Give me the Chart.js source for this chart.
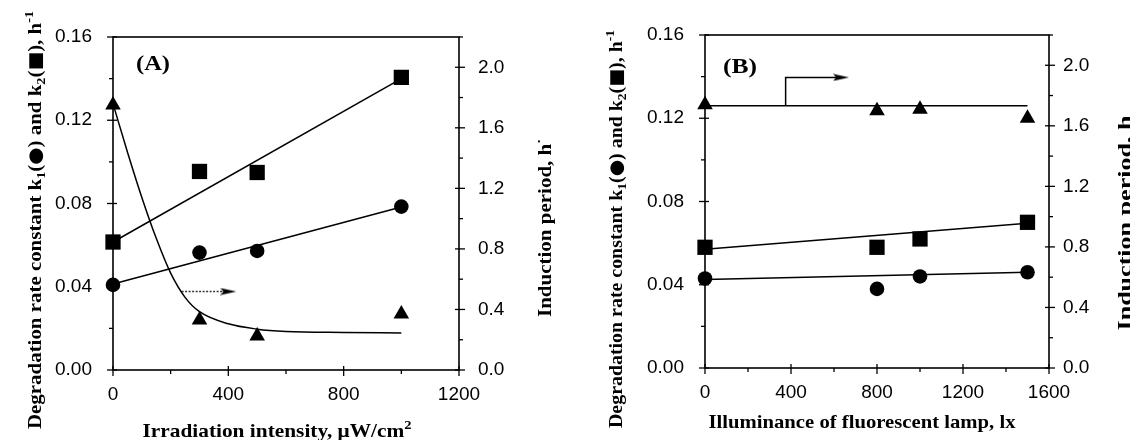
<!DOCTYPE html>
<html>
<head>
<meta charset="utf-8">
<script src="https://cdn.jsdelivr.net/npm/chart.js@4.4.0/dist/chart.umd.min.js"></script>
<style>
  body { margin: 0; background: #fff; }
  #wrap { position: relative; width: 1130px; height: 440px; }
  canvas { position: absolute; top: 0; }
  #chartA { left: 0; }
  #chartB { left: 565px; }
</style>
</head>
<body>
<div id="wrap">
  <canvas id="chartA" width="565" height="440"></canvas>
  <canvas id="chartB" width="565" height="440"></canvas>
</div>
<script>
// panel A - irradiation intensity, uW/cm2
const intensityA = [0, 300, 500, 1000];
const k1A = [0.0409, 0.0564, 0.0572, 0.0785];
const k2A = [0.0615, 0.0954, 0.0949, 0.1406];
const inductionA = [1.75, 0.33, 0.225, 0.37];
const fitXA = [0, 1000];
const k1FitA = [0.0413, 0.0783];
const k2FitA = [0.0615, 0.140];
const curveXA = [0, 50, 100, 150, 200, 250, 300, 400, 500, 600, 800, 1000];
const curveYA = [1.76, 1.44, 1.14, 0.87, 0.64, 0.48, 0.385, 0.305, 0.27, 0.255, 0.248, 0.245];
const arrowXA = [238, 400];
const arrowYA = [0.0377, 0.0377];

// panel B - illuminance of fluorescent lamp, lx
const illuminanceB = [0, 800, 1000, 1500];
const k1B = [0.043, 0.038, 0.044, 0.046];
const k2B = [0.058, 0.058, 0.062, 0.070];
const inductionB = [1.74, 1.70, 1.71, 1.65];
const fitXB = [0, 1500];
const k1FitB = [0.0425, 0.046];
const k2FitB = [0.057, 0.0695];
const inductionFitB = [1.733, 1.733];
const arrowXB = [375, 375, 633];
const arrowYB = [1.733, 1.92, 1.92];

// tick labels
const xTicksA = ['0', '400', '800', '1200'];
const xTicksB = ['0', '400', '800', '1200', '1600'];
const yTicksLeft = ['0.00', '0.04', '0.08', '0.12', '0.16'];
const yTicksRight = ['0.0', '0.4', '0.8', '1.2', '1.6', '2.0'];

Chart.defaults.font.family = "'Liberation Sans', Arial, sans-serif";
Chart.defaults.color = '#000';

const pts = (xs, ys) => xs.map((x, i) => ({ x: x, y: ys[i] }));

// small arrow head used as point style
const arrowHead = document.createElement('canvas');
arrowHead.width = 16;
arrowHead.height = 8;
const ah = arrowHead.getContext('2d');
ah.fillStyle = '#000';
ah.beginPath();
ah.moveTo(0, 0.5);
ah.lineTo(16, 4);
ah.lineTo(0, 7.5);
ah.lineTo(3, 4);
ah.closePath();
ah.fill();

// frame + minor/major tick marks
const tickMarks = {
  id: 'tickMarks',
  afterDraw(chart) {
    const ctx = chart.ctx;
    const a = chart.chartArea;
    ctx.save();
    ctx.strokeStyle = '#000';
    ctx.lineWidth = 1.6;
    ctx.strokeRect(a.left, a.top, a.right - a.left, a.bottom - a.top);
    ctx.lineWidth = 1.3;
    ['x', 'y', 'y2'].forEach(id => {
      const sc = chart.scales[id];
      sc.ticks.forEach((t, i) => {
        const major = t.label !== '';
        const p = sc.getPixelForTick(i);
        const out = major ? 6 : 4;
        const inn = major ? 4 : 0;
        ctx.beginPath();
        if (id === 'x') { ctx.moveTo(p, a.bottom - inn); ctx.lineTo(p, a.bottom + out); }
        else if (id === 'y') { ctx.moveTo(a.left - out, p); ctx.lineTo(a.left + inn, p); }
        else { ctx.moveTo(a.right + out, p); ctx.lineTo(a.right - inn, p); }
        ctx.stroke();
      });
    });
    ctx.restore();
  }
};

const serif = '"Liberation Serif", "Times New Roman", serif';

// axis titles with sub/superscripts, fitted to the length they have in the figure
const sideText = {
  id: 'sideText',
  afterDraw(chart, args, opts) {
    const ctx = chart.ctx;
    (opts.items || []).forEach(it => {
      const size = it.size;
      const parts = it.parts.map(p => {
        let s = size, dy = 0, fam = serif, w = it.weight || 'bold';
        if (p.sub) { s = size * 0.68; dy = size * 0.22; }
        if (p.sup) { s = size * 0.68; dy = -size * 0.42; }
        if (p.sym) { fam = '"DejaVu Sans", sans-serif'; s = size * 0.95; w = 'normal'; }
        return { t: p.t, font: w + ' ' + s + 'px ' + fam, dy: dy };
      });
      let total = 0;
      parts.forEach(p => { ctx.font = p.font; p.w = ctx.measureText(p.t).width; total += p.w; });
      const sx = it.len ? it.len / total : 1;
      ctx.save();
      ctx.translate(it.x, it.y);
      ctx.rotate(it.rot * Math.PI / 180);
      ctx.scale(sx, 1);
      ctx.fillStyle = '#000';
      ctx.textAlign = 'left';
      ctx.textBaseline = 'alphabetic';
      let cx = -total / 2;
      parts.forEach(p => {
        ctx.font = p.font;
        ctx.fillText(p.t, cx, size * 0.32 + p.dy);
        cx += p.w;
      });
      ctx.restore();
    });
  }
};

const rateTitle = [
  { t: 'Degradation rate constant k' }, { t: '1', sub: true }, { t: '(' }, { t: '●', sym: true },
  { t: ') and k' }, { t: '2', sub: true }, { t: '(' }, { t: '■', sym: true }, { t: '), h' }, { t: '-1', sup: true }
];

const tickFont = { size: 19 };

function makeScales(cfg) {
  return {
    x: {
      type: 'linear', position: 'bottom', min: 0, max: cfg.xMax,
      afterFit: s => { s.height = cfg.bottom; },
      border: { display: false },
      grid: { display: false, drawTicks: false },
      ticks: {
        stepSize: 200, padding: 13, autoSkip: false, maxRotation: 0, font: tickFont,
        callback: v => cfg.xTicks.includes(String(v)) ? String(v) : ''
      }
    },
    y: {
      type: 'linear', position: 'left', min: 0, max: 0.16,
      afterFit: s => { s.width = cfg.left; },
      border: { display: false },
      grid: { display: false, drawTicks: false },
      ticks: {
        stepSize: 0.02, padding: cfg.leftPad, autoSkip: false, font: tickFont,
        callback: v => yTicksLeft.includes(v.toFixed(2)) ? v.toFixed(2) : ''
      }
    },
    y2: {
      type: 'linear', position: 'right', min: 0, max: 2.2,
      afterFit: s => { s.width = cfg.right; },
      border: { display: false },
      grid: { display: false, drawTicks: false },
      ticks: {
        stepSize: 0.2, padding: cfg.rightPad, autoSkip: false, font: tickFont,
        callback: v => yTicksRight.includes(v.toFixed(1)) ? v.toFixed(1) : ''
      }
    }
  };
}

const lineDs = (data, axis, extra) => Object.assign({
  data: data, yAxisID: axis, showLine: true, borderColor: '#000', borderWidth: 1.5,
  pointRadius: 0, clip: false
}, extra || {});

const markDs = (data, axis, style, r) => ({
  data: data, yAxisID: axis, showLine: false, pointStyle: style, pointRadius: r,
  backgroundColor: '#000', borderColor: '#000', borderWidth: 0, clip: false
});

new Chart(document.getElementById('chartA'), {
  type: 'scatter',
  data: {
    datasets: [
      lineDs(pts(fitXA, k2FitA), 'y'),
      lineDs(pts(fitXA, k1FitA), 'y'),
      lineDs(pts(curveXA, curveYA), 'y2', { cubicInterpolationMode: 'monotone' }),
      lineDs(pts(arrowXA, arrowYA), 'y', {
        borderDash: [2, 1.5], borderColor: '#333', pointStyle: arrowHead, pointRadius: [0, 8]
      }),
      markDs(pts(intensityA, k2A), 'y', 'rect', 10.8),
      markDs(pts(intensityA, k1A), 'y', 'circle', 7.3),
      markDs(pts(intensityA, inductionA), 'y2', 'triangle', 9)
    ]
  },
  options: {
    responsive: false,
    animation: false,
    events: [],
    layout: { padding: { top: 37, left: 0, right: 0, bottom: 0 } },
    scales: makeScales({
      xMax: 1200, xTicks: xTicksA, bottom: 70, left: 113, right: 106, leftPad: 21, rightPad: 19
    }),
    plugins: {
      legend: { display: false },
      tooltip: { enabled: false },
      sideText: {
        items: [
          { parts: rateTitle, x: 35, y: 220, rot: -90, size: 19, len: 418 },
          { parts: [{ t: 'Induction period, h' }, { t: '·', sup: true }], x: 545, y: 228, rot: -90, size: 19, len: 178 },
          { parts: [{ t: 'Irradiation intensity, μW/cm' }, { t: '2', sup: true }], x: 277, y: 431, rot: 0, size: 19, len: 269 },
          { parts: [{ t: '(A)' }], x: 153, y: 63, rot: 0, size: 22, len: 34 }
        ]
      }
    }
  },
  plugins: [tickMarks, sideText]
});

new Chart(document.getElementById('chartB'), {
  type: 'scatter',
  data: {
    datasets: [
      lineDs(pts(fitXB, k2FitB), 'y'),
      lineDs(pts(fitXB, k1FitB), 'y'),
      lineDs(pts(fitXB, inductionFitB), 'y2'),
      lineDs(pts(arrowXB, arrowYB), 'y2', { pointStyle: arrowHead, pointRadius: [0, 0, 8] }),
      markDs(pts(illuminanceB, k2B), 'y', 'rect', 10.8),
      markDs(pts(illuminanceB, k1B), 'y', 'circle', 7.3),
      markDs(pts(illuminanceB, inductionB), 'y2', 'triangle', 9)
    ]
  },
  options: {
    responsive: false,
    animation: false,
    events: [],
    layout: { padding: { top: 35, left: 0, right: 0, bottom: 0 } },
    scales: makeScales({
      xMax: 1600, xTicks: xTicksB, bottom: 72, left: 140, right: 81, leftPad: 21, rightPad: 14
    }),
    plugins: {
      legend: { display: false },
      tooltip: { enabled: false },
      sideText: {
        items: [
          { parts: rateTitle, x: 51, y: 229, rot: -90, size: 19, len: 398 },
          { parts: [{ t: 'Induction period, h' }], x: 560, y: 223, rot: -90, size: 19, len: 215 },
          { parts: [{ t: 'Illuminance of fluorescent lamp, lx' }], x: 297, y: 422, rot: 0, size: 19, len: 307 },
          { parts: [{ t: '(B)' }], x: 175, y: 66, rot: 0, size: 22, len: 34 }
        ]
      }
    }
  },
  plugins: [tickMarks, sideText]
});
</script>
</body>
</html>
